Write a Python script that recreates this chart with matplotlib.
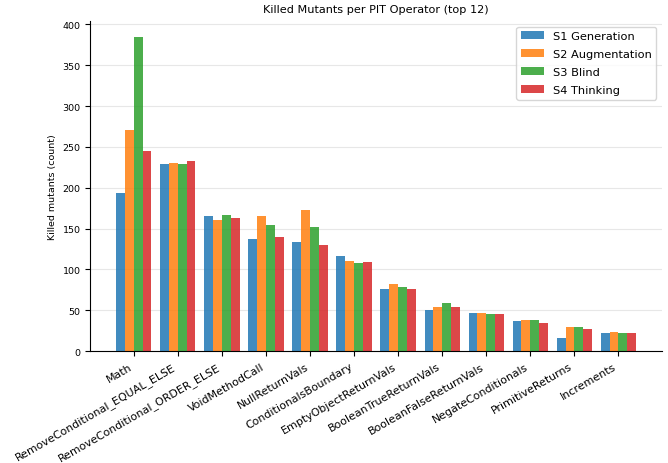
import matplotlib
matplotlib.use('Agg')
import matplotlib.pyplot as plt
import numpy as np

operators = ['Math', 'RemoveConditional_EQUAL_ELSE', 'RemoveConditional_ORDER_ELSE',
             'VoidMethodCall', 'NullReturnVals', 'ConditionalsBoundary',
             'EmptyObjectReturnVals', 'BooleanTrueReturnVals', 'BooleanFalseReturnVals',
             'NegateConditionals', 'PrimitiveReturns', 'Increments']
s1_generation = [193, 229, 165, 137, 133, 116, 76, 50, 47, 37, 16, 22]
s2_augmentation = [271, 230, 160, 165, 173, 110, 82, 54, 47, 38, 30, 23]
s3_blind = [385, 229, 167, 154, 152, 108, 79, 59, 46, 38, 30, 22]
s4_thinking = [245, 233, 163, 140, 130, 109, 76, 54, 46, 35, 27, 22]

series = [('S1 Generation', s1_generation, '#1f77b4'),
          ('S2 Augmentation', s2_augmentation, '#ff7f0e'),
          ('S3 Blind', s3_blind, '#2ca02c'),
          ('S4 Thinking', s4_thinking, '#d62728')]

fig, ax = plt.subplots(figsize=(6.68, 4.64), dpi=100)
fig.subplots_adjust(left=0.135, right=0.991, top=0.953, bottom=0.241)

x = np.arange(len(operators))
width = 0.2
for i, (name, vals, color) in enumerate(series):
    ax.bar(x + (i - 1.5) * width, vals, width, label=name, color=color, alpha=0.85)

ax.set_title('Killed Mutants per PIT Operator (top 12)', fontsize=8.1)
ax.set_ylabel('Killed mutants (count)', fontsize=6.8)
ax.set_xticks(x)
ax.set_xticklabels(operators, rotation=30, ha='right', fontsize=7.9)
ax.tick_params(axis='y', labelsize=6.8)
ax.yaxis.grid(True, alpha=0.3)
ax.set_axisbelow(True)
ax.spines['top'].set_visible(False)
ax.spines['right'].set_visible(False)
ax.legend(loc='upper right', fontsize=8.2, labelspacing=0.7)

plt.savefig('out.png', dpi=100)
